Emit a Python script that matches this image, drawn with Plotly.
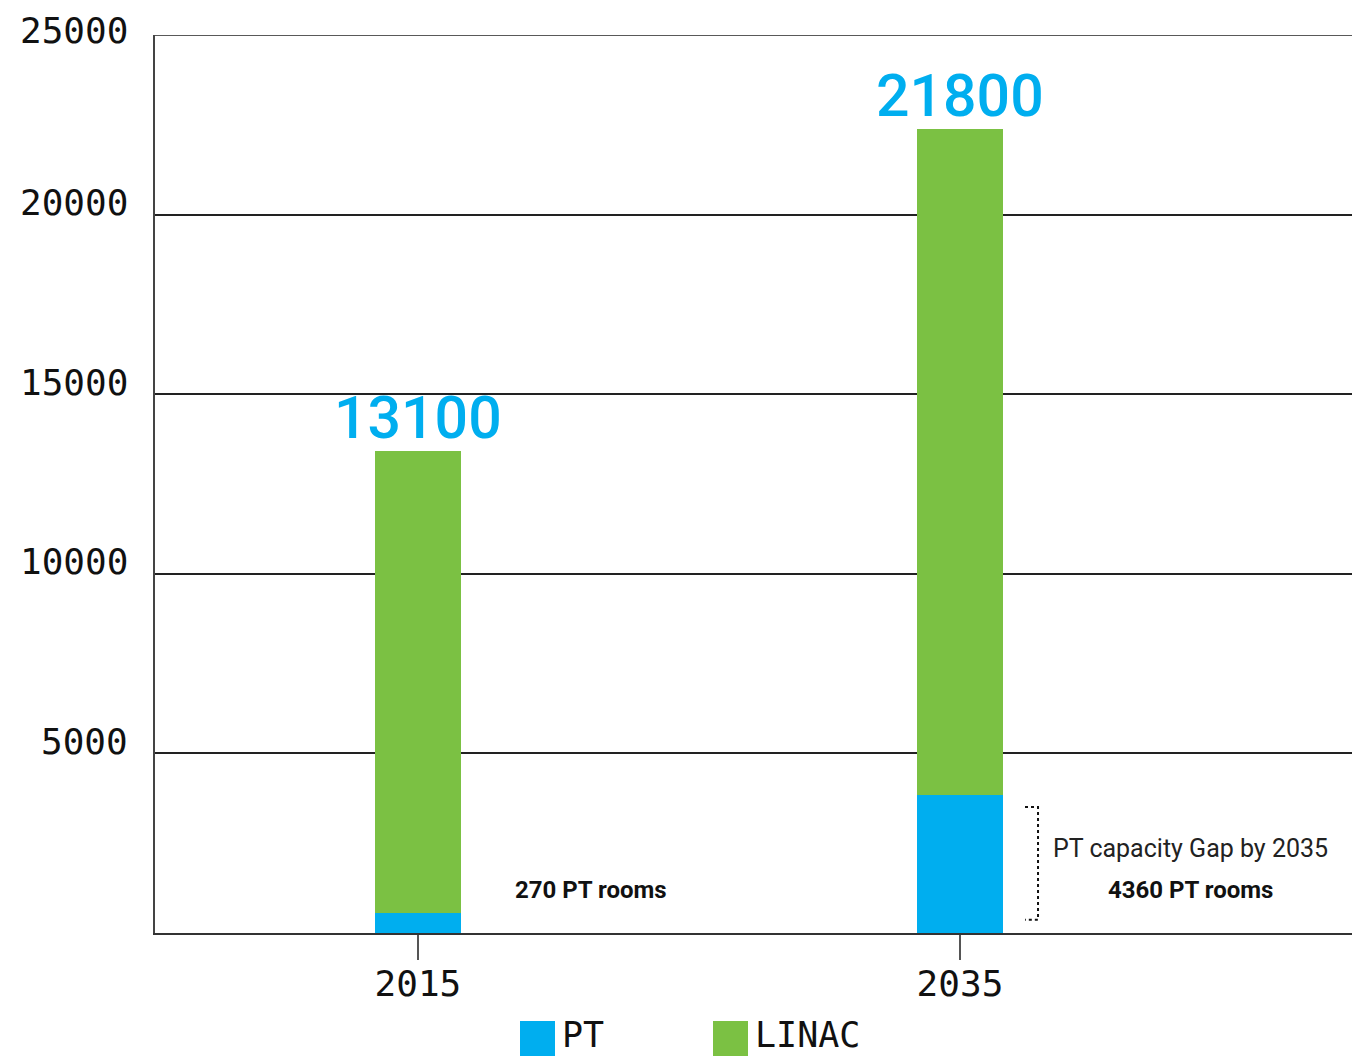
import plotly.graph_objects as go

categories = ["2015", "2035"]
pt_values = [560, 3840]
linac_values = [12860, 18540]
total_labels = ["13100", "21800"]
y_ticks = [5000, 10000, 15000, 20000, 25000]

BLUE = "#00AEEF"
GREEN = "#7BC143"
MONO = "DejaVu Sans Mono"
SANS = "Roboto"

xpos = list(range(len(categories)))
totals = [p + l for p, l in zip(pt_values, linac_values)]

W, H = 1352, 1049
ML, MT, MB = 147, 27, 124
PW = W - ML
PH = H - MT - MB

fig = go.Figure()
fig.add_trace(go.Bar(x=xpos, y=pt_values, name="PT", marker=dict(color=BLUE, line=dict(width=0)),
                     width=0.159, showlegend=False))
fig.add_trace(go.Bar(x=xpos, y=linac_values, name="LINAC", marker=dict(color=GREEN, line=dict(width=0)),
                     width=0.159, showlegend=False))

annotations = []
# y tick labels
for v in y_ticks:
    annotations.append(dict(x=0, xref="paper", y=v, yref="y", text=f"{v}", showarrow=False,
                            xanchor="right", yanchor="middle", xshift=-26,
                            yshift=5 if v == y_ticks[-1] else 12, borderpad=0,
                            font=dict(family=MONO, size=36, color="#111")))
# total labels
for xi, t, lab in zip(xpos, totals, total_labels):
    annotations.append(dict(x=xi, y=t, text=lab, showarrow=False, xanchor="center", yanchor="bottom",
                            yshift=-3, font=dict(family=SANS, size=59, color=BLUE, weight=500)))
# notes
annotations.append(dict(x=0.32, y=pt_values[0] + 640, text="<b>270 PT rooms</b>", showarrow=False,
                        xanchor="center", yanchor="middle", font=dict(family=SANS, size=24, color="#111")))
annotations.append(dict(x=1.425, y=2360, text="PT capacity Gap by 2035", showarrow=False,
                        xanchor="center", yanchor="middle", font=dict(family=SANS, size=25, color="#222")))
annotations.append(dict(x=1.425, y=1200, text="<b>4360 PT rooms</b>", showarrow=False,
                        xanchor="center", yanchor="middle", font=dict(family=SANS, size=24, color="#111")))
# manual legend (page pixel positions converted to paper coords)
legend_items = [("PT", BLUE, 520), ("LINAC", GREEN, 713)]
shapes = []
page_off = 8
plot_left_page = ML + page_off
plot_bottom_page = MT + PH + page_off
for name, col, px in legend_items:
    x0 = (px - plot_left_page) / PW
    x1 = (px + 35 - plot_left_page) / PW
    shapes.append(dict(type="rect", xref="paper", yref="paper", x0=x0, x1=x1,
                       y0=-(1056 - plot_bottom_page) / PH, y1=-(1021 - plot_bottom_page) / PH,
                       fillcolor=col, line=dict(width=0)))
    annotations.append(dict(x=x1, xref="paper", y=-(1035 - plot_bottom_page) / PH, yref="paper", text=name,
                            showarrow=False, xanchor="left", yanchor="middle", xshift=6, borderpad=0,
                            font=dict(family=MONO, size=35, color="#111")))

# top gridline at 25000
shapes.append(dict(type="line", xref="paper", yref="y", x0=0, x1=1, y0=y_ticks[-1], y1=y_ticks[-1],
                   line=dict(color="#222", width=1.5)))
# dotted bracket
shapes.append(dict(type="path", xref="x", yref="y",
                   path="M 1.12,3510 L 1.144,3510 L 1.144,370 L 1.12,370",
                   line=dict(color="#111", width=2, dash="dot")))

fig.update_layout(
    width=W, height=H,
    margin=dict(l=ML, r=0, t=MT, b=MB),
    paper_bgcolor="white", plot_bgcolor="white",
    barmode="stack",
    bargap=0,
    annotations=annotations,
    shapes=shapes,
    showlegend=False,
)
fig.update_xaxes(range=[-0.485, 1.738], tickvals=xpos, ticktext=categories,
                 ticks="outside", ticklen=25, tickcolor="#555", tickwidth=1.5,
                 ticklabelstandoff=-7,
                 showline=True, linecolor="#333", linewidth=2, showgrid=False, zeroline=False,
                 tickfont=dict(family=MONO, size=36, color="#111"))
fig.update_yaxes(range=[0, 25000], tickvals=y_ticks, showticklabels=False,
                 showgrid=True, gridcolor="#222", gridwidth=1.5,
                 showline=True, linecolor="#444", linewidth=2, zeroline=False)

fig.write_html("out.html")
